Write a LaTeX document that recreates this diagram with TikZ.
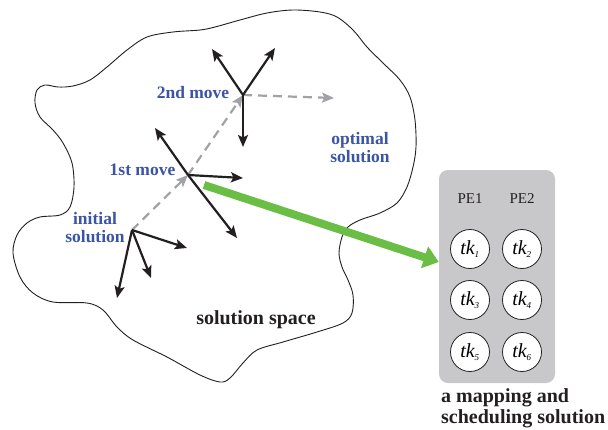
\documentclass[tikz,border=0pt]{standalone}
\usepackage{fontspec}
\setmainfont{Liberation Serif}
\usetikzlibrary{arrows.meta}
\definecolor{lblblue}{HTML}{3B54A5}
\definecolor{dgray}{HTML}{A0A2A5}
\definecolor{boxgray}{HTML}{C8C8CA}
\definecolor{arrgreen}{HTML}{6BBE45}
\definecolor{ink}{HTML}{231F20}
\begin{document}
\begin{tikzpicture}[x=1pt,y=-1pt,
  bluelbl/.style={text=lblblue,font=\fontsize{17.5}{19}\selectfont\bfseries,align=center,inner sep=0pt},
  blacklbl/.style={text=ink,font=\fontsize{20}{22}\selectfont\bfseries,inner sep=0pt},
  move/.style={draw=ink,line width=2.2pt,-{Stealth[length=12pt,width=10pt,inset=2.5pt]}},
  trail/.style={draw=dgray,line width=2.2pt,dash pattern=on 9pt off 6pt,-{Stealth[length=12pt,width=10pt,inset=2.5pt]}},
  task/.style={circle,draw=ink,fill=white,line width=0.8pt,minimum size=39pt,inner sep=0pt,font=\fontsize{20}{22}\selectfont\itshape},
  pe/.style={font=\fontsize{15}{17}\selectfont,text=ink,inner sep=0pt}
]
\useasboundingbox (0,0) rectangle (608,429);
% solution space outline
\draw[ink,line width=0.9pt] plot[smooth cycle,tension=0.55] coordinates {
(37,90)(45,85)(58,87)(73,86)(90,80)(107,67)(127,50)(147,37)(173,32)(200,30)(215,27)(240,20)(267,13)(293,10)(320,12)(337,17)(353,30)(367,47)(383,63)(400,80)(410,97)(415,120)(416,147)(413,167)(407,187)(397,203)(380,213)(360,220)(348,227)(342,237)(339,253)(342,267)(348,280)(353,295)(352,313)(343,323)(317,332)(283,342)(257,350)(243,363)(230,378)(220,382)(200,375)(167,357)(133,340)(117,327)(103,310)(87,303)(53,302)(33,293)(20,277)(13,253)(17,235)(27,223)(40,217)(60,215)(70,207)(74,187)(72,163)(63,143)(53,130)(40,117)(35,103)};
% points
\coordinate (p0) at (132,230);
\coordinate (p1) at (188,175);
\coordinate (p2) at (243,95);
\coordinate (p0a) at (187,248);
\coordinate (p0b) at (151,278);
\coordinate (p0c) at (117,298);
\coordinate (p1a) at (155,128);
\coordinate (p1b) at (243,178);
\coordinate (p1c) at (237,238);
\coordinate (p2a) at (212,49);
\coordinate (p2b) at (275,48);
\coordinate (p2c) at (243,147);
\coordinate (opt) at (334,98);
% gray trail
\draw[trail] (p0) -- (p1);
\draw[trail] (p1) -- (p2);
\draw[trail] (p2) -- (opt);
% moves
\draw[move] (p0) -- (p0a);
\draw[move] (p0) -- (p0b);
\draw[move] (p0) -- (p0c);
\draw[move] (p1) -- (p1a);
\draw[move] (p1) -- (p1b);
\draw[move] (p1) -- (p1c);
\draw[move] (p2) -- (p2a);
\draw[move] (p2) -- (p2b);
\draw[move] (p2) -- (p2c);
% labels
\node[bluelbl] (l2) at (193,93) {2nd move};
\node[bluelbl] (l1) at (142.5,170) {1st move};
\node[bluelbl] (l0) at (95,227.5) {initial\\[-1pt]solution};
\node[bluelbl] (lopt) at (360,147.5) {optimal\\[-1pt]solution};
\node[blacklbl] (lspace) at (256,320) {solution space};
% mapping box
\node[fill=boxgray,rounded corners=9pt,minimum width=116pt,minimum height=213pt,inner sep=0pt] (box) at (497,276.5) {};
\node[pe] (pe1) at (470,199) {PE1};
\node[pe] (pe2) at (522,199) {PE2};
\node[task] (t1) at (470,249) {tk\textsubscript{\fontsize{9}{9}\selectfont 1}};
\node[task] (t2) at (522,249) {tk\textsubscript{\fontsize{9}{9}\selectfont 2}};
\node[task] (t3) at (470,300) {tk\textsubscript{\fontsize{9}{9}\selectfont 3}};
\node[task] (t4) at (522,300) {tk\textsubscript{\fontsize{9}{9}\selectfont 4}};
\node[task] (t5) at (470,352) {tk\textsubscript{\fontsize{9}{9}\selectfont 5}};
\node[task] (t6) at (522,352) {tk\textsubscript{\fontsize{9}{9}\selectfont 6}};
\node[text=ink,font=\fontsize{20}{21}\selectfont\bfseries,align=left,anchor=north west,inner sep=0pt] (cap) at (441,388) {a mapping and\\scheduling solution};
% green arrow
\coordinate (gstart) at (204,185);
\draw[arrgreen,line width=8pt,-{Triangle[length=15pt,width=22pt]}] (gstart) -- (box.west |- 0,262);
\end{tikzpicture}
\end{document}
